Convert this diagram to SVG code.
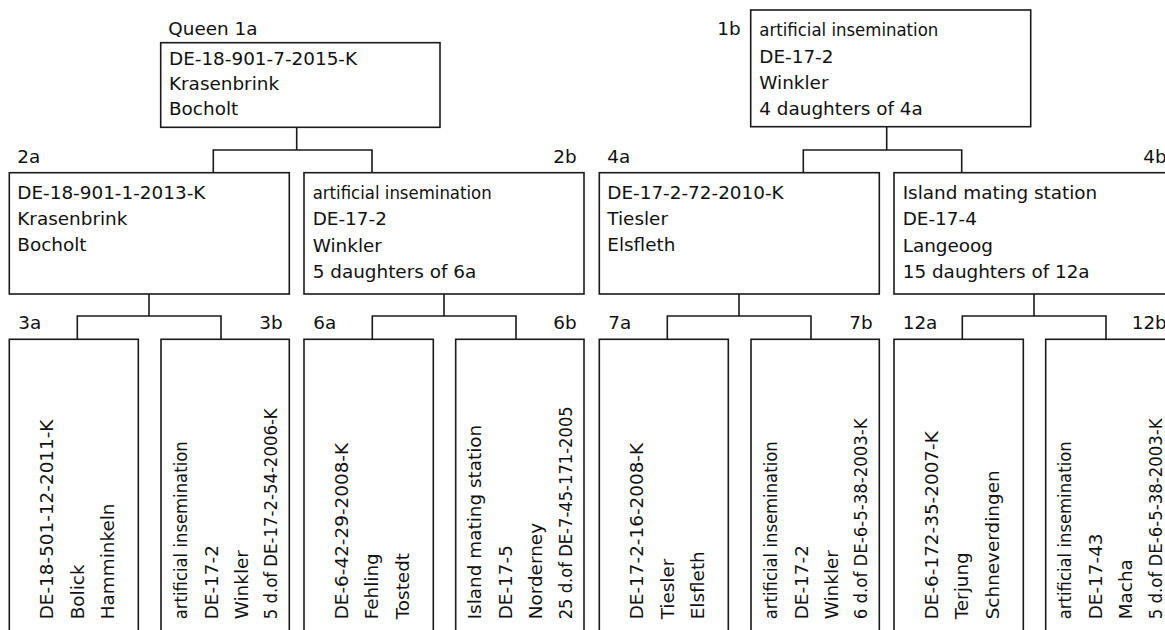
<svg xmlns="http://www.w3.org/2000/svg" width="1165" height="630" viewBox="0 0 1165 630">
<style>
.box{fill:#fff;stroke:#1a1a1a;stroke-width:1.6}
.t{font-family:"DejaVu Sans",sans-serif;font-size:18.4px;fill:#111}
.c{font-family:"DejaVu Sans Condensed","DejaVu Sans",sans-serif}
#connectors path{fill:none;stroke:#1a1a1a;stroke-width:1.6}
</style>
<rect width="1165" height="630" fill="#fff"/>
<g id="connectors">
<path d="M296.7 127.3V150M213.3 172.7V150H372V172.7"/>
<path d="M886.7 126.7V150M803.3 172.7V150H961.7V172.7"/>
<path d="M149 294V316M77.3 339.3V316H221V339.3"/>
<path d="M444 294V316M372.3 339.3V316H516V339.3"/>
<path d="M739 294V316M667.3 339.3V316H811V339.3"/>
<path d="M1034 294V316M962.3 339.3V316H1106V339.3"/>
</g>
<g id="n1a" class="t">
<text x="168.3" y="35">Queen 1a</text>
<rect class="box" x="160.7" y="42.7" width="279.3" height="84.6"/>
<text x="169" y="65">DE-18-901-7-2015-K</text>
<text x="169" y="90">Krasenbrink</text>
<text x="169" y="115">Bocholt</text>
</g>
<g id="n1b" class="t">
<text x="717.3" y="35">1b</text>
<rect class="box" x="750.7" y="10" width="280" height="116.7"/>
<text class="c" x="759.3" y="36" textLength="179" lengthAdjust="spacingAndGlyphs">artificial insemination</text>
<text x="759.3" y="62.5">DE-17-2</text>
<text x="759.3" y="89">Winkler</text>
<text x="759.3" y="115">4 daughters of 4a</text>
</g>
<g id="n2a" class="t">
<text x="17.3" y="163.3">2a</text>
<rect class="box" x="9.3" y="172.7" width="280" height="121.3"/>
<text x="17.3" y="198.5">DE-18-901-1-2013-K</text>
<text x="17.3" y="224.5">Krasenbrink</text>
<text x="17.3" y="250.5">Bocholt</text>
</g>
<g id="n2b" class="t">
<text x="553.3" y="163.3">2b</text>
<rect class="box" x="304" y="172.7" width="280" height="121.3"/>
<text class="c" x="312.7" y="198.5" textLength="179" lengthAdjust="spacingAndGlyphs">artificial insemination</text>
<text x="312.7" y="225">DE-17-2</text>
<text x="312.7" y="251.5">Winkler</text>
<text x="312.7" y="278">5 daughters of 6a</text>
</g>
<g id="n4a" class="t">
<text x="607.3" y="163.3">4a</text>
<rect class="box" x="599.3" y="172.7" width="280" height="121.3"/>
<text x="607.3" y="198.5">DE-17-2-72-2010-K</text>
<text x="607.3" y="224.5">Tiesler</text>
<text x="607.3" y="250.5">Elsfleth</text>
</g>
<g id="n4b" class="t">
<text x="1143.3" y="163.3">4b</text>
<rect class="box" x="894" y="172.7" width="280" height="121.3"/>
<text x="902.7" y="198.5">Island mating station</text>
<text x="902.7" y="225">DE-17-4</text>
<text x="902.7" y="251.5">Langeoog</text>
<text x="902.7" y="278">15 daughters of 12a</text>
</g>
<g id="n3a" class="t">
<text x="18.3" y="329.3">3a</text>
<rect class="box" x="9.3" y="339.3" width="129" height="310"/>
<text transform="translate(53.3,619.3) rotate(-90)">DE-18-501-12-2011-K</text>
<text transform="translate(83.8,619.3) rotate(-90)">Bolick</text>
<text transform="translate(114.3,619.3) rotate(-90)">Hamminkeln</text>
</g>
<g id="n3b" class="t">
<text x="259.3" y="329.3">3b</text>
<rect class="box" x="161" y="339.3" width="128.3" height="310"/>
<text class="c" transform="translate(186.7,619.3) rotate(-90)" textLength="178" lengthAdjust="spacingAndGlyphs">artificial insemination</text>
<text transform="translate(217.5,619.3) rotate(-90)">DE-17-2</text>
<text transform="translate(248,619.3) rotate(-90)">Winkler</text>
<text class="c" transform="translate(277,619.3) rotate(-90)" textLength="211" lengthAdjust="spacingAndGlyphs">5 d.of DE-17-2-54-2006-K</text>
</g>
<g id="n6a" class="t">
<text x="313.3" y="329.3">6a</text>
<rect class="box" x="304" y="339.3" width="129.3" height="310"/>
<text transform="translate(347.5,619.3) rotate(-90)">DE-6-42-29-2008-K</text>
<text transform="translate(378,619.3) rotate(-90)">Fehling</text>
<text transform="translate(408.5,619.3) rotate(-90)">Tostedt</text>
</g>
<g id="n6b" class="t">
<text x="553.3" y="329.3">6b</text>
<rect class="box" x="455.7" y="339.3" width="128.3" height="310"/>
<text transform="translate(481.3,619.3) rotate(-90)">Island mating station</text>
<text transform="translate(512,619.3) rotate(-90)">DE-17-5</text>
<text transform="translate(542.3,619.3) rotate(-90)">Norderney</text>
<text class="c" transform="translate(571.7,619.3) rotate(-90)" textLength="213" lengthAdjust="spacingAndGlyphs">25 d.of DE-7-45-171-2005</text>
</g>
<g id="n7a" class="t">
<text x="608.3" y="329.3">7a</text>
<rect class="box" x="599.3" y="339.3" width="129" height="310"/>
<text transform="translate(643.3,619.3) rotate(-90)">DE-17-2-16-2008-K</text>
<text transform="translate(673.8,619.3) rotate(-90)">Tiesler</text>
<text transform="translate(704.3,619.3) rotate(-90)">Elsfleth</text>
</g>
<g id="n7b" class="t">
<text x="849.3" y="329.3">7b</text>
<rect class="box" x="751" y="339.3" width="128.3" height="310"/>
<text class="c" transform="translate(776.7,619.3) rotate(-90)" textLength="178" lengthAdjust="spacingAndGlyphs">artificial insemination</text>
<text transform="translate(807.5,619.3) rotate(-90)">DE-17-2</text>
<text transform="translate(838,619.3) rotate(-90)">Winkler</text>
<text class="c" transform="translate(866.7,619.3) rotate(-90)" textLength="201" lengthAdjust="spacingAndGlyphs">6 d.of DE-6-5-38-2003-K</text>
</g>
<g id="n12a" class="t">
<text x="902.7" y="329.3">12a</text>
<rect class="box" x="894" y="339.3" width="129.3" height="310"/>
<text transform="translate(937.5,619.3) rotate(-90)">DE-6-172-35-2007-K</text>
<text transform="translate(968,619.3) rotate(-90)">Terjung</text>
<text transform="translate(998.5,619.3) rotate(-90)">Schneverdingen</text>
</g>
<g id="n12b" class="t">
<text x="1131.7" y="329.3">12b</text>
<rect class="box" x="1045.7" y="339.3" width="128.3" height="310"/>
<text class="c" transform="translate(1071.4,619.3) rotate(-90)" textLength="178" lengthAdjust="spacingAndGlyphs">artificial insemination</text>
<text transform="translate(1101.7,619.3) rotate(-90)">DE-17-43</text>
<text transform="translate(1132,619.3) rotate(-90)">Macha</text>
<text class="c" transform="translate(1161.7,619.3) rotate(-90)" textLength="201" lengthAdjust="spacingAndGlyphs">5 d.of DE-6-5-38-2003-K</text>
</g>
</svg>
